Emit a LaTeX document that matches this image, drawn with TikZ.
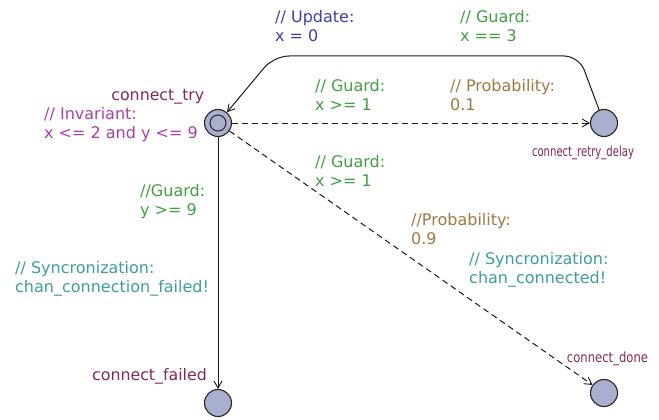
\documentclass[tikz,border=0pt]{standalone}
\usepackage{fontspec}
\usepackage{graphicx}
\setmainfont{DejaVu Sans}
\usetikzlibrary{arrows.meta}

\definecolor{locfill}{RGB}{168,176,206}
\definecolor{locname}{RGB}{135,38,92}
\definecolor{invcol}{RGB}{170,62,170}
\definecolor{guardcol}{RGB}{64,160,64}
\definecolor{updcol}{RGB}{64,64,164}
\definecolor{synccol}{RGB}{60,158,160}
\definecolor{probcol}{RGB}{160,120,64}

\newcommand{\fs}{\rule{0pt}{12.5pt}}

\begin{document}
\begin{tikzpicture}[x=1pt,y=-1pt,
  loc/.style={circle, draw=black!85, fill=locfill, line width=1.1pt,
    minimum size=27pt, inner sep=0pt},
  edge/.style={draw=black!90, line width=1pt,
    -{Straight Barb[length=7pt,width=8pt,line width=0.9pt]}},
  prob/.style={edge, dash pattern=on 6pt off 4pt},
  lbl/.style={anchor=north west, inner sep=0pt, align=left,
    font=\fontsize{16}{19}\selectfont},
  locname/.style={inner sep=0pt, text=locname,
    font=\fontsize{15.8}{19}\selectfont},
  smallname/.style={inner sep=0pt, text=locname, anchor=base,
    font=\fontsize{14}{16}\selectfont}]
\useasboundingbox (0,0) rectangle (659,420);

% locations
\node[loc] (try) at (218,123) {};
\node[circle, draw=black!85, line width=1pt, minimum size=16pt, inner sep=0pt] (tryinit) at (try.center) {};
\node[loc] (retry) at (604,123) {};
\node[loc] (done) at (604,393) {};
\node[loc] (failed) at (218,403) {};

% location names and invariant
\node[locname, anchor=base east] (trynm) at (204.5,100) {connect\_try};
\node[locname, anchor=base east] (failednm) at (207,380) {connect\_failed};
\node[smallname] (retrynm) at (583,156.5) {\scalebox{0.72}[1]{connect\_retry\_delay}};
\node[smallname] (donenm) at (607.5,362) {\scalebox{0.83}[1]{connect\_done}};
\node[lbl, text=invcol] (inv) at (44,106.5) {\fs// Invariant:\\x <= 2 and y <= 9};

% edges
\coordinate (nailR) at (579,56);
\coordinate (nailL) at (274,56);
\draw[edge, rounded corners=15pt] (retry) -- (nailR) -- (nailL) -- (try);
\draw[prob] (try) -- (retry);
\draw[prob] (try) -- (done);
\draw[edge] (try) -- (failed);

% edge labels
\node[lbl, text=updcol] (upd) at (275,9.5) {\fs// Update:\\x = 0};
\node[lbl, text=guardcol] (grd3) at (460,9.8) {\fs// Guard:\\x == 3};
\node[lbl, text=guardcol] (grdA) at (315,78.5) {\fs// Guard:\\x >= 1};
\node[lbl, text=probcol] (prob1) at (450,78.5) {\fs// Probability:\\0.1};
\node[lbl, text=guardcol] (grdB) at (315,154.5) {\fs// Guard:\\x >= 1};
\node[lbl, text=guardcol] (grdY) at (140,183.5) {\fs//Guard:\\y >= 9};
\node[lbl, text=probcol] (prob9) at (411,212.5) {\fs//Probability:\\0.9};
\node[lbl, text=synccol] (syncF) at (15,260.8) {\fs// Syncronization:\\chan\_connection\_failed!};
\node[lbl, text=synccol] (syncC) at (469,251.5) {\fs// Syncronization:\\chan\_connected!};
\end{tikzpicture}
\end{document}
